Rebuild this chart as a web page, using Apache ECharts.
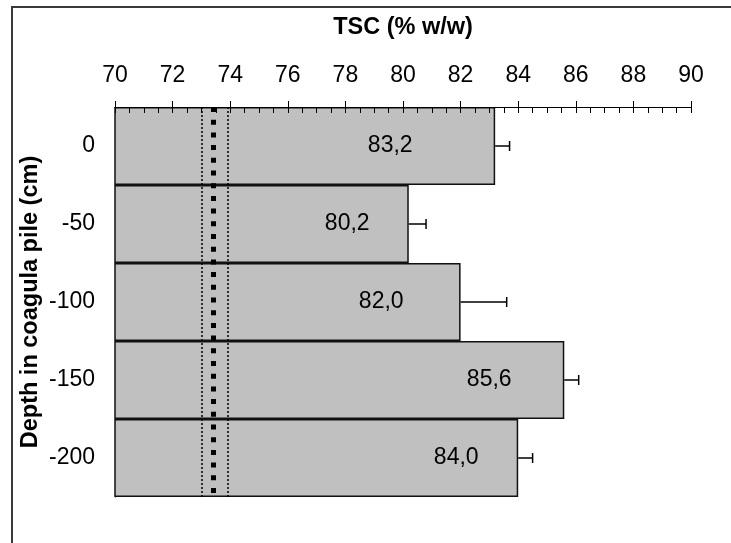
<!DOCTYPE html>
<html lang="en">
<head>
    <meta charset="UTF-8">
    <title>TSC depth profile</title>
    <script src="https://cdn.jsdelivr.net/npm/echarts@6/dist/echarts.min.js"></script>
    <style>
        html, body { margin: 0; padding: 0; background: #fff; }
    </style>
</head>
<body>
<div id="myChart" style="width: 731px;height: 543px;"></div>
<script>
    // depth categories, top to bottom
    var depths = ['0', '-50', '-100', '-150', '-200'];
    // mean TSC (% w/w) and its error
    var tsc = [83.2, 80.2, 82.0, 85.6, 84.0];
    var tscErr = [0.5, 0.6, 1.6, 0.5, 0.5];
    // reference band (mean and limits)
    var refMean = 73.4;
    var refLow = 73.0;
    var refHigh = 73.9;
    // x axis ticks
    var xMin = 70, xMax = 90, xStep = 2;

    // where the value labels sit inside each bar (px from the bar's left edge)
    var labelLeft = [276, 233, 267, 375, 342];

    var font = 'Liberation Sans, Arial, sans-serif';
    var myChart = echarts.init(document.getElementById('myChart'));

    var barData = tsc.map(function (v, i) {
        return {
            value: v,
            label: { position: [labelLeft[i], '50%'] }
        };
    });
    var errData = tsc.map(function (v, i) {
        return [v, i, tscErr[i]];
    });

    var option = {
        animation: false,
        textStyle: { fontFamily: font },
        graphic: [{
            type: 'rect',
            shape: { x: 12, y: 7, width: 760, height: 600 },
            style: { fill: null, stroke: '#3a3a3a', lineWidth: 2 },
            silent: true
        }],
        grid: { left: 115, top: 107, width: 576, height: 390 },
        xAxis: [{
            type: 'value',
            position: 'top',
            min: xMin, max: xMax, interval: xStep,
            name: 'TSC (% w/w)',
            nameLocation: 'middle',
            nameGap: 67,
            nameMoveOverlap: false,
            nameTextStyle: { fontWeight: 'bold', fontSize: 23.5, color: '#000', fontFamily: font },
            axisLine: { show: true, lineStyle: { color: '#000', width: 1 } },
            axisTick: { show: true, length: 6, lineStyle: { color: '#000', width: 1 } },
            axisLabel: { fontSize: 23, color: '#000', margin: 20, fontFamily: font },
            splitLine: { show: false },
            z: 5
        }, {
            type: 'value',
            position: 'top',
            min: xMin, max: xMax, interval: xStep,
            axisLine: { show: false },
            axisTick: { show: true, inside: true, length: 6, lineStyle: { color: '#000', width: 1 } },
            minorTick: { show: true, splitNumber: 4, length: 6, lineStyle: { color: '#000', width: 1 } },
            axisLabel: { show: false },
            splitLine: { show: false },
            minorSplitLine: { show: false },
            z: 5
        }],
        yAxis: {
            type: 'category',
            data: depths,
            inverse: true,
            name: 'Depth in coagula pile (cm)',
            nameLocation: 'middle',
            nameGap: 72,
            nameMoveOverlap: false,
            nameTextStyle: { fontWeight: 'bold', fontSize: 23.5, color: '#000', fontFamily: font },
            axisLine: { show: true, lineStyle: { color: '#000', width: 1 } },
            axisTick: { show: false },
            axisLabel: { fontSize: 23, color: '#000', margin: 20, fontFamily: font }
        },
        series: [{
            type: 'bar',
            data: barData,
            barCategoryGap: '0%',
            itemStyle: { color: '#c0c0c0', borderColor: '#111', borderWidth: 1.5 },
            label: {
                show: true,
                align: 'center',
                verticalAlign: 'middle',
                fontSize: 23,
                color: '#000',
                fontFamily: font,
                formatter: function (p) {
                    return p.value.toFixed(1).replace('.', ',');
                }
            },
            markLine: {
                silent: true,
                symbol: 'none',
                label: { show: false },
                data: [
                    { xAxis: refLow, lineStyle: { color: '#000', type: [2, 2], width: 1.5 } },
                    { xAxis: refHigh, lineStyle: { color: '#000', type: [2, 2], width: 1.5 } },
                    { xAxis: refMean, lineStyle: { color: '#000', type: [5, 7.7], width: 5 } }
                ]
            },
            z: 2
        }, {
            type: 'custom',
            data: errData,
            encode: { x: 0, y: 1 },
            z: 3,
            renderItem: function (params, api) {
                var v = api.value(0);
                var c = api.value(1);
                var e = api.value(2);
                var p0 = api.coord([v, c]);
                var p1 = api.coord([v + e, c]);
                var st = { stroke: '#000', lineWidth: 1.5 };
                return {
                    type: 'group',
                    children: [
                        { type: 'line', shape: { x1: p0[0], y1: p0[1], x2: p1[0], y2: p1[1] }, style: st },
                        { type: 'line', shape: { x1: p1[0], y1: p1[1] - 5, x2: p1[0], y2: p1[1] + 5 }, style: st }
                    ]
                };
            }
        }]
    };

    myChart.setOption(option);
</script>
</body>
</html>
